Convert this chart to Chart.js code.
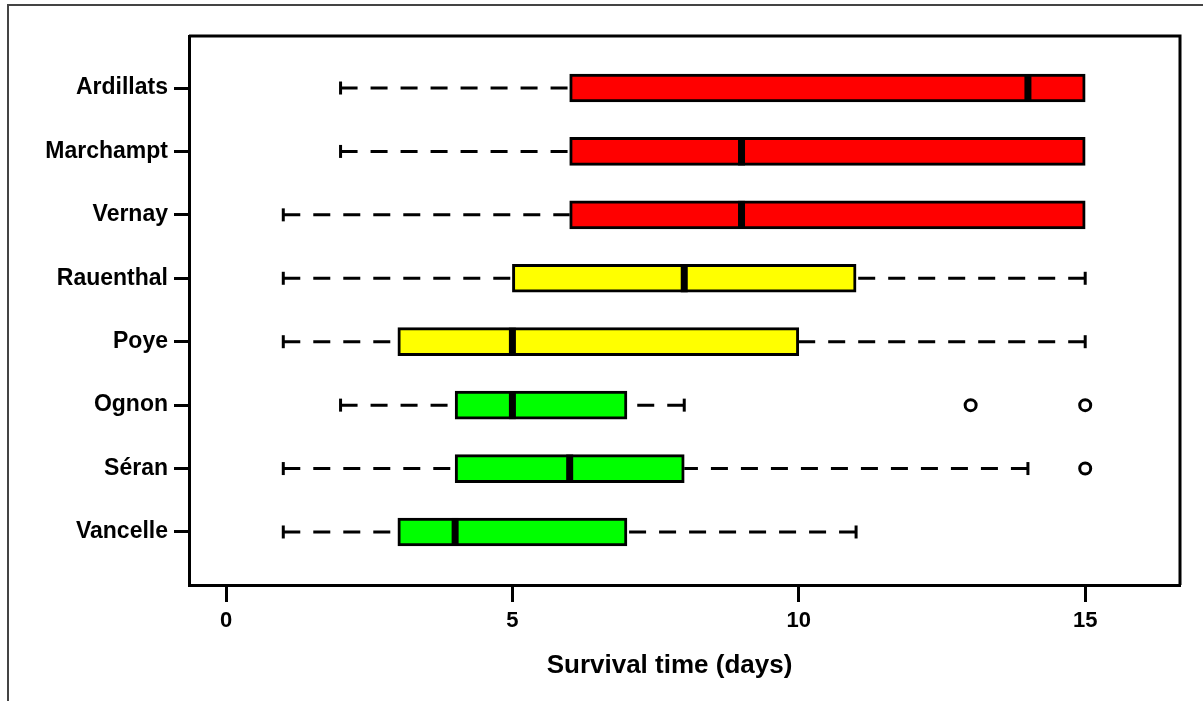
<!DOCTYPE html>
<html>
<head>
<meta charset="utf-8">
<script src="https://cdn.jsdelivr.net/npm/chart.js@4.4.1/dist/chart.umd.min.js"></script>
<style>
  html, body { margin: 0; padding: 0; background: #fff; }
  #wrap { position: relative; width: 1203px; height: 701px; }
  #frame { position: absolute; left: 7px; top: 4px; right: 0; bottom: 0; border-top: 2px solid #444; border-left: 2px solid #444; }
  canvas { position: absolute; left: 0; top: 0; }
</style>
</head>
<body>
<div id="wrap">
  <div id="frame"></div>
  <canvas id="c" width="1203" height="701"></canvas>
</div>
<script>
// ---- data ----
const sites       = ["Ardillats", "Marchampt", "Vernay", "Rauenthal", "Poye", "Ognon", "Séran", "Vancelle"];
const whiskerLow  = [2, 2, 1, 1, 1, 2, 1, 1];
const q1          = [6, 6, 6, 5, 3, 4, 4, 3];
const medians     = [14, 9, 9, 8, 5, 5, 6, 4];
const q3          = [15, 15, 15, 11, 10, 7, 8, 7];
const whiskerHigh = [15, 15, 15, 15, 15, 8, 14, 11];
const outlierSite = ["Ognon", "Ognon", "Séran"];
const outlierDays = [13, 15, 15];
const xTicks      = [0, 5, 10, 15];
const axisTitle   = "Survival time (days)";

// ---- styles ----
const boxColors = ["#ff0000", "#ff0000", "#ff0000", "#ffff00", "#ffff00", "#00ff00", "#00ff00", "#00ff00"];
const BOX_H = 28;
const FONT = "'Liberation Sans', Arial, sans-serif";

const boxData = sites.map((s, i) => ({ x: [q1[i], q3[i]], y: i }));
const outlierData = outlierDays.map((d, k) => ({ x: d, y: sites.indexOf(outlierSite[k]) }));

const boxPlugin = {
  id: 'boxExtras',
  beforeDatasetsDraw(chart) {
    const ctx = chart.ctx, xs = chart.scales.x, ys = chart.scales.y;
    ctx.save();
    ctx.strokeStyle = '#000';
    ctx.lineWidth = 3;
    ctx.lineCap = 'butt';
    sites.forEach((s, i) => {
      const y = ys.getPixelForValue(i);
      const segs = [[whiskerLow[i], q1[i]], [whiskerHigh[i], q3[i]]];
      segs.forEach(([w, b]) => {
        if (w === b) return;
        const xw = xs.getPixelForValue(w), xb = xs.getPixelForValue(b);
        ctx.setLineDash([17, 13]);
        ctx.beginPath(); ctx.moveTo(xw, y); ctx.lineTo(xb, y); ctx.stroke();
        ctx.setLineDash([]);
        ctx.beginPath(); ctx.moveTo(xw, y - 6.5); ctx.lineTo(xw, y + 6.5); ctx.stroke();
      });
    });
    ctx.restore();
  },
  afterDatasetsDraw(chart) {
    const ctx = chart.ctx, xs = chart.scales.x, ys = chart.scales.y;
    ctx.save();
    ctx.fillStyle = '#000';
    sites.forEach((s, i) => {
      const y = ys.getPixelForValue(i);
      const xm = xs.getPixelForValue(medians[i]);
      ctx.fillRect(xm - 3.5, y - BOX_H / 2, 7, BOX_H);
    });
    // plot box (top and right sides)
    const a = chart.chartArea;
    ctx.strokeStyle = '#000';
    ctx.lineWidth = 3;
    ctx.beginPath();
    ctx.moveTo(a.left, a.top); ctx.lineTo(a.right, a.top); ctx.lineTo(a.right, a.bottom);
    ctx.stroke();
    // axis title
    ctx.font = "bold 26px " + FONT;
    ctx.textAlign = 'center';
    ctx.textBaseline = 'middle';
    ctx.fillText(axisTitle, (a.left + a.right) / 2 - 15, 666);
    ctx.restore();
  }
};

new Chart(document.getElementById('c'), {
  type: 'bar',
  data: {
    datasets: [
      {
        type: 'bar',
        data: boxData,
        backgroundColor: boxColors,
        borderColor: '#000',
        borderWidth: 3,
        borderSkipped: false,
        barThickness: BOX_H,
        order: 2
      },
      {
        type: 'scatter',
        data: outlierData,
        pointStyle: 'circle',
        pointRadius: 5.5,
        pointBorderWidth: 3,
        pointBorderColor: '#000',
        pointBackgroundColor: 'rgba(0,0,0,0)',
        order: 1
      }
    ]
  },
  options: {
    indexAxis: 'y',
    responsive: false,
    animation: false,
    events: [],
    layout: { padding: { left: 0, top: 36, right: 23, bottom: 0 } },
    plugins: { legend: { display: false }, tooltip: { enabled: false } },
    scales: {
      x: {
        type: 'linear',
        position: 'bottom',
        min: -0.646,
        max: 16.655,
        offset: false,
        afterBuildTicks: (sc) => { sc.ticks = xTicks.map(v => ({ value: v })); },
        afterFit: (sc) => { sc.height = 116; },
        grid: { display: true, drawOnChartArea: false, drawTicks: true, tickLength: 17, tickWidth: 3, tickColor: '#000', offset: false },
        border: { display: true, color: '#000', width: 3 },
        ticks: { color: '#000', padding: 6, font: { family: FONT, size: 22, weight: 'bold' }, maxRotation: 0 },
        title: { display: false }
      },
      y: {
        type: 'linear',
        position: 'left',
        reverse: true,
        min: -0.82,
        max: 7.836,
        offset: false,
        afterBuildTicks: (sc) => { sc.ticks = sites.map((s, i) => ({ value: i })); },
        afterFit: (sc) => { sc.width = 189; },
        grid: { display: true, drawOnChartArea: false, drawTicks: true, tickLength: 15, tickWidth: 3, tickColor: '#000', offset: false },
        border: { display: true, color: '#000', width: 3 },
        ticks: { color: '#000', padding: 6, autoSkip: false, font: { family: FONT, size: 23, weight: 'bold' },
                 callback: (v) => sites[v] }
      }
    }
  },
  plugins: [boxPlugin]
});
</script>
</body>
</html>
